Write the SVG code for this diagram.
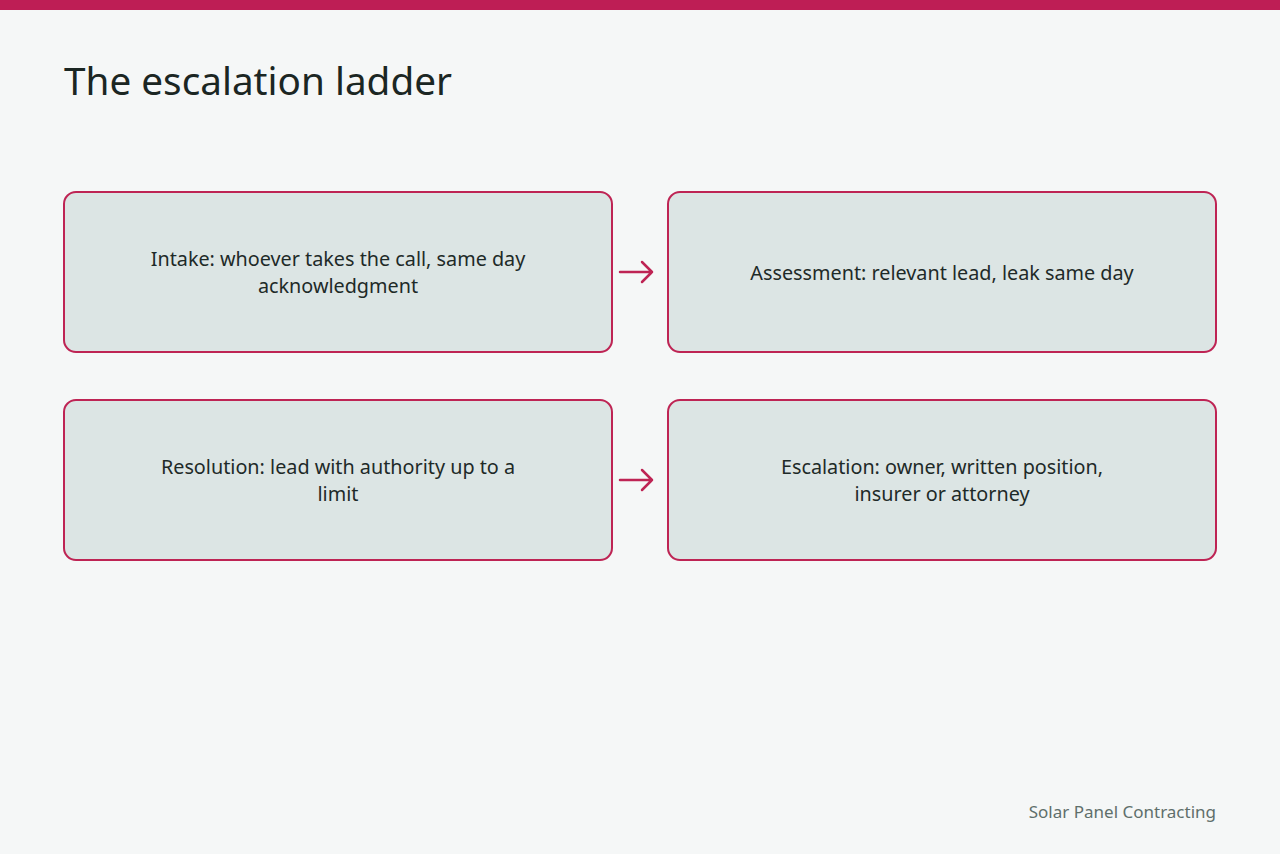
<svg xmlns="http://www.w3.org/2000/svg" width="1280" height="854" viewBox="0 0 1280 854">
<defs>
<style>
.bg{fill:#F5F7F7}
.bar{fill:#BE1E55}
.title{font-family:"Noto Sans","Open Sans",sans-serif;font-size:38.7px;fill:#1B2623}
.box{fill:#DCE5E4;stroke:#BE2454;stroke-width:2}
.lbl{font-family:"Noto Sans","Open Sans",sans-serif;font-size:19.8px;fill:#1E2A28;text-anchor:middle}
.foot{font-family:"Noto Sans","Open Sans",sans-serif;font-size:17px;fill:#5F6F6B;text-anchor:end}
.conn{stroke:#BE2454;stroke-width:2.5;fill:none;stroke-linecap:round;stroke-linejoin:round}
</style>
</defs>
<rect class="bg" x="0" y="0" width="1280" height="854"/>
<rect class="bar" x="0" y="0" width="1280" height="10"/>
<text class="title" x="64" y="95">The escalation ladder</text>
<g id="node-intake">
<rect class="box" x="64" y="192" width="548" height="160" rx="12"/>
<text class="lbl" x="338" y="266">Intake: whoever takes the call, same day</text>
<text class="lbl" x="338" y="293">acknowledgment</text>
</g>
<g id="node-assessment">
<rect class="box" x="668" y="192" width="548" height="160" rx="12"/>
<text class="lbl" x="942" y="280">Assessment: relevant lead, leak same day</text>
</g>
<g id="node-resolution">
<rect class="box" x="64" y="400" width="548" height="160" rx="12"/>
<text class="lbl" x="338" y="474">Resolution: lead with authority up to a</text>
<text class="lbl" x="338" y="501">limit</text>
</g>
<g id="node-escalation">
<rect class="box" x="668" y="400" width="548" height="160" rx="12"/>
<text class="lbl" x="942" y="474">Escalation: owner, written position,</text>
<text class="lbl" x="942" y="501">insurer or attorney</text>
</g>
<g id="connectors">
<path class="conn" d="M620 272 H652 M642 262 L652 272 L642 282"/>
<path class="conn" d="M620 480 H652 M642 470 L652 480 L642 490"/>
</g>
<text class="foot" x="1216" y="818">Solar Panel Contracting</text>
</svg>
